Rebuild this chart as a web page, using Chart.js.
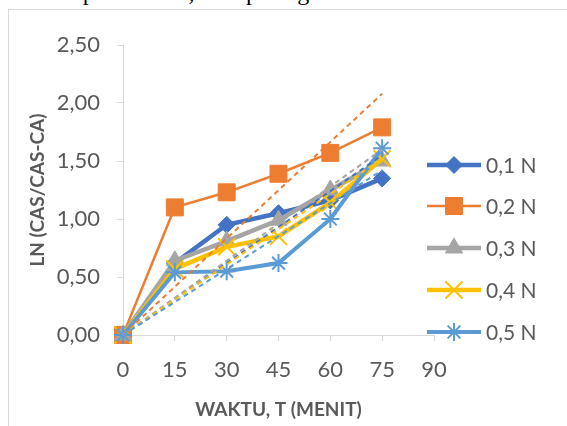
<!DOCTYPE html>
<html>
<head>
<meta charset="utf-8">
<script src="https://cdn.jsdelivr.net/npm/chart.js"></script>
<style>
  html, body { margin: 0; padding: 0; background: #fff; overflow: hidden; }
  #wrap { position: relative; width: 567px; height: 426px; overflow: hidden; }
  #caption { position: absolute; left: -2px; top: -21px; font: 24px "Liberation Serif", serif; color: #000; white-space: nowrap; }
  #frame { position: absolute; left: 8px; top: 9px; width: 700px; height: 600px; border: 1px solid #d9d9d9; }
  #grafik { position: absolute; left: 0; top: 0; }
</style>
</head>
<body>
<div id="wrap">
  <div id="caption">waktu seperti diatas,akan pada gambar 2.</div>
  <div id="frame"></div>
  <canvas id="grafik" width="567" height="426"></canvas>
</div>
<script>
// Data
const waktu = [0, 15, 30, 45, 60, 75];
const seri01 = [0, 0.62, 0.95, 1.05, 1.16, 1.35];
const seri02 = [0, 1.10, 1.23, 1.39, 1.57, 1.79];
const seri03 = [0, 0.64, 0.81, 0.99, 1.25, 1.50];
const seri04 = [0, 0.57, 0.76, 0.85, 1.14, 1.52];
const seri05 = [0, 0.54, 0.55, 0.62, 1.00, 1.61];
const labelSeri = ["0,1 N", "0,2 N", "0,3 N", "0,4 N", "0,5 N"];

// Garis trendline (putus-putus), titik awal dan akhir
const trendX = [0, 75];
const trend01 = [0, 1.55];
const trend02 = [0, 2.08];
const trend03 = [0, 1.60];
const trend04 = [0, 1.52];
const trend05 = [0, 1.42];

// Label sumbu
const xTicks = [0, 15, 30, 45, 60, 75, 90];
const xTickLabels = ["0", "15", "30", "45", "60", "75", "90"];
const yTicks = [0, 0.5, 1, 1.5, 2, 2.5];
const yTickLabels = ["0,00", "0,50", "1,00", "1,50", "2,00", "2,50"];

const warna = ["#4472C4", "#ED7D31", "#A5A5A5", "#FFC000", "#5B9BD5"];
const tebal = [4.5, 2.5, 4.5, 4.5, 4];
const bentuk = ["rectRot", "rect", "triangle", "crossRot", "star"];
const ukuran = [8.5, 12, 10, 12, 9];
const teksAbu = "#595959";
const garisAbu = "#d9d9d9";

const semuaSeri = [seri01, seri02, seri03, seri04, seri05];
const semuaTrend = [trend01, trend02, trend03, trend04, trend05];

function titik(xs, ys) {
    return xs.map((x, i) => ({ x: x, y: ys[i] }));
}

const datasets = [];
semuaSeri.forEach((s, i) => {
    datasets.push({
        label: labelSeri[i],
        data: titik(waktu, s),
        borderColor: warna[i],
        backgroundColor: warna[i],
        borderWidth: tebal[i],
        pointStyle: bentuk[i],
        pointRadius: ukuran[i],
        pointBorderWidth: (bentuk[i] === "crossRot" || bentuk[i] === "star") ? 2 : 1,
        pointBorderColor: warna[i],
        pointBackgroundColor: warna[i],
        fill: false,
        tension: 0,
        clip: false,
        order: 10 - i
    });
});
semuaTrend.forEach((t, i) => {
    datasets.push({
        label: "trend " + labelSeri[i],
        data: titik(trendX, t),
        borderColor: warna[i],
        borderWidth: 2,
        borderDash: [5, 4],
        pointRadius: 0,
        fill: false,
        clip: false,
        order: -i
    });
});

// Legenda di sebelah kanan, digambar manual (garis + penanda)
const legendaKanan = {
    id: "legendaKanan",
    afterDraw(chart) {
        const ctx = chart.ctx;
        const yPos = [165, 206, 248, 290, 332];
        labelSeri.forEach((lbl, i) => {
            const y = yPos[i];
            ctx.save();
            ctx.strokeStyle = warna[i];
            ctx.lineWidth = tebal[i];
            ctx.beginPath();
            ctx.moveTo(427, y);
            ctx.lineTo(481, y);
            ctx.stroke();
            ctx.fillStyle = warna[i];
            ctx.strokeStyle = warna[i];
            ctx.lineWidth = (bentuk[i] === "crossRot" || bentuk[i] === "star") ? 2 : 1;
            Chart.helpers.drawPoint(ctx, { pointStyle: bentuk[i], radius: ukuran[i], rotation: 0, borderWidth: ctx.lineWidth }, 454, y);
            ctx.fillStyle = teksAbu;
            ctx.font = "21px Lato";
            ctx.textAlign = "left";
            ctx.textBaseline = "middle";
            ctx.fillText(lbl, 486, y + 1);
            ctx.restore();
        });
    }
};

new Chart(document.getElementById("grafik"), {
    type: "line",
    data: { datasets: datasets },
    options: {
        responsive: false,
        animation: false,
        layout: { padding: { left: 0, top: 45, right: 133, bottom: 0 } },
        plugins: {
            legend: { display: false },
            tooltip: { enabled: false }
        },
        scales: {
            x: {
                type: "linear",
                min: 0,
                max: 90,
                afterFit: s => { s.height = 91; },
                afterBuildTicks: s => { s.ticks = xTicks.map(v => ({ value: v })); },
                grid: { display: true, drawOnChartArea: false, drawTicks: true, tickLength: 6, color: garisAbu },
                border: { color: garisAbu, width: 1 },
                ticks: {
                    color: teksAbu,
                    font: { family: "Lato", size: 22 },
                    padding: 16,
                    maxRotation: 0,
                    callback: (v, i) => xTickLabels[i]
                },
                title: {
                    display: true,
                    text: "WAKTU, T (MENIT)",
                    color: teksAbu,
                    font: { family: "Lato", size: 19, weight: "bold" },
                    padding: { top: 0, bottom: 5 }
                }
            },
            y: {
                type: "linear",
                min: 0,
                max: 2.5,
                afterFit: s => { s.width = 123; },
                afterBuildTicks: s => { s.ticks = yTicks.map(v => ({ value: v })); },
                grid: { display: true, drawOnChartArea: false, drawTicks: true, tickLength: 6, color: garisAbu },
                border: { color: garisAbu, width: 1 },
                ticks: {
                    color: teksAbu,
                    font: { family: "Lato", size: 22 },
                    padding: 17,
                    callback: (v, i) => yTickLabels[i]
                },
                title: {
                    display: true,
                    text: "LN (CAS/CAS-CA)",
                    color: teksAbu,
                    font: { family: "Lato", size: 19, weight: "bold" },
                    padding: { top: 26, bottom: 0 }
                }
            }
        }
    },
    plugins: [legendaKanan]
});
</script>
</body>
</html>
